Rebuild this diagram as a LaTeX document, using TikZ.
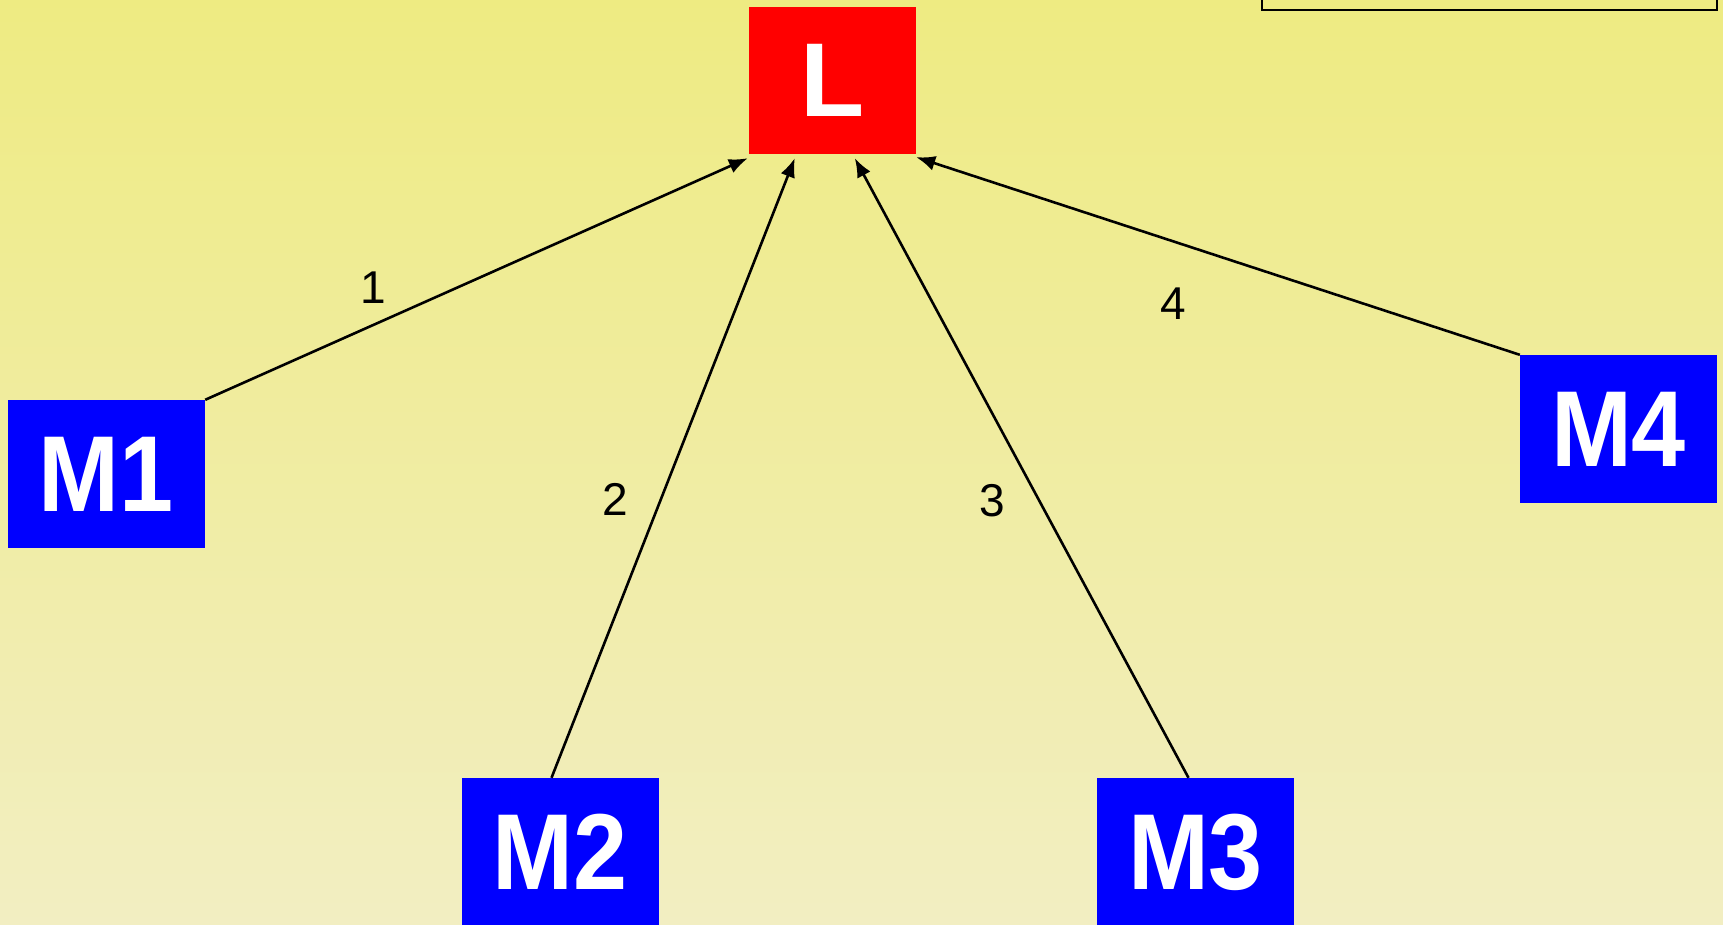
\documentclass[tikz,border=0pt]{standalone}
\usepackage{fontspec}
\setmainfont{Liberation Sans}
\newfontfamily\boxfont[FakeStretch=0.9]{Liberation Sans}
\usetikzlibrary{arrows.meta,calc}
\definecolor{bgtop}{RGB}{238,235,130}
\definecolor{bgbot}{RGB}{242,238,194}
\definecolor{mblue}{RGB}{0,0,255}
\definecolor{lred}{RGB}{255,0,0}
\tikzset{
  mbox/.style={fill=mblue, text=white, minimum width=197pt, minimum height=148pt, inner sep=0pt, font=\boxfont\fontsize{108}{112}\selectfont\bfseries},
  lbox/.style={fill=lred, text=white, minimum width=167pt, minimum height=147pt, inner sep=0pt, font=\fontsize{105}{110}\selectfont\bfseries},
  link/.style={line width=2.6pt, -{Latex[length=19pt,width=15pt]}},
  numlabel/.style={font=\fontsize{46}{50}\selectfont, text=black, inner sep=0pt}
}
\begin{document}
\begin{tikzpicture}[x=1pt,y=-1pt]
\useasboundingbox (0,0) rectangle (1723,924);
\shade[top color=bgtop, bottom color=bgbot] (0,0) rectangle (1723,924);
\draw[line width=1.6pt] (1262,-20) rectangle (1717,10);
\node[lbox] (L) at (832.5,80.5) {L};
\node[mbox] (M1) at (106.5,474) {M1};
\node[mbox] (M2) at (560.5,852) {M2};
\node[mbox] (M3) at (1195.5,852) {M3};
\node[mbox] (M4) at (1618.5,429) {M4};
\coordinate (t1) at ($(L.south west)+(-1,4)$);
\coordinate (t2) at ($(L.south west)+(46,4)$);
\coordinate (t3) at ($(L.south west)+(106,4)$);
\coordinate (t4) at ($(L.south east)+(0,3)$);
\coordinate (s2) at ($(M2.north)+(-9,0)$);
\coordinate (s3) at ($(M3.north)+(-7,0)$);
\draw[link] (M1.north east) -- (t1);
\draw[link] (s2) -- (t2);
\draw[link] (s3) -- (t3);
\draw[link] (M4.north west) -- (t4);
\node[numlabel] (n1) at (373,288) {1};
\node[numlabel] (n2) at (615,499) {2};
\node[numlabel] (n3) at (992,501) {3};
\node[numlabel] (n4) at (1173.5,304) {4};
\end{tikzpicture}
\end{document}
